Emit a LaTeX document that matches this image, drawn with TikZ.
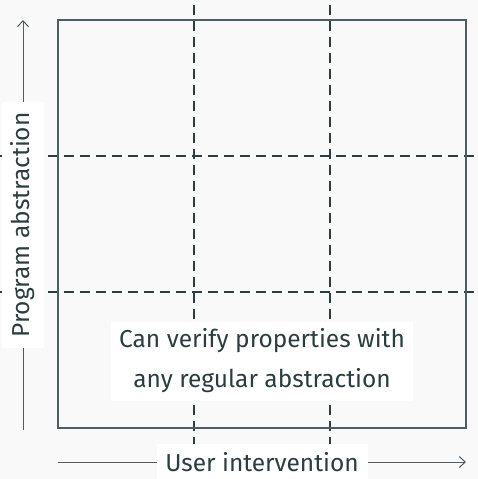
\documentclass[tikz,border=0pt]{standalone}
\usepackage{fontspec}
\setmainfont{Fira Sans}
\usetikzlibrary{arrows.meta}
\definecolor{ink}{HTML}{2B3D40}
\definecolor{rule}{HTML}{4E5D62}
\definecolor{paper}{HTML}{F9F9F9}
\tikzset{
  grid line/.style={draw=ink,line width=1.3pt,dash pattern=on 10pt off 6pt},
  axis/.style={draw=rule,line width=1pt,-{Straight Barb[length=6pt,width=11pt]}},
  tag/.style={fill=white,text=ink,font=\fontsize{24.5}{40}\selectfont,inner sep=6pt,align=center}
}
\begin{document}
\begin{tikzpicture}[x=1pt,y=-1pt]
\fill[paper] (0,0) rectangle (478,479);
\useasboundingbox (0,0) rectangle (478,479);
\foreach \p in {194,330}
{
  \draw[grid line] (\p,5) -- (\p,479);
}
\foreach \p in {156,292}
{
  \draw[grid line] (0,\p) -- (478,\p);
}
\draw[rule,line width=1.4pt] (58,20) rectangle (466,428);
\coordinate (ystart) at (23,430);
\coordinate (yend) at (23,20);
\coordinate (xstart) at (58,462);
\coordinate (xend) at (466,462);
\draw[axis] (ystart) -- (yend);
\draw[axis] (xstart) -- (xend);
\node[tag,rotate=90,minimum height=42pt,minimum width=246pt] (ylabel) at (23,225) {Program abstraction};
\node[tag,minimum width=211pt,minimum height=36pt] (xlabel) at (262,462) {User intervention};
\node[tag,minimum width=302pt,minimum height=79pt,inner sep=4pt] (claim) at (262,361)
  {Can verify properties with\\any regular abstraction};
\end{tikzpicture}
\end{document}
